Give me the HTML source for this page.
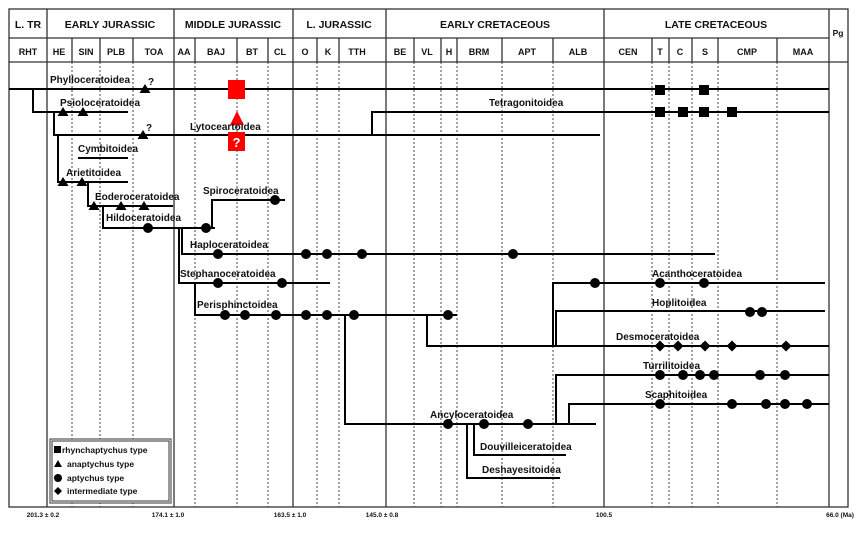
<!DOCTYPE html>
<html><head><meta charset="utf-8"><style>
html,body{margin:0;padding:0;background:#fff;}
svg{display:block;}
text{font-family:"Liberation Sans",Arial,sans-serif;font-weight:bold;fill:#111;}
</style></head><body>
<svg width="862" height="544" viewBox="0 0 862 544" xmlns="http://www.w3.org/2000/svg">
<defs>
<g id="c"><circle r="5" fill="#000"/></g>
<g id="t"><polygon points="0,-5 5.5,4 -5.5,4" fill="#000"/></g>
<g id="s"><rect x="-5" y="-5" width="10" height="10" fill="#000"/></g>
<g id="d"><polygon points="0,-5.5 5.5,0 0,5.5 -5.5,0" fill="#000"/></g>
</defs>
<!-- dotted stage lines -->
<g stroke="#444" stroke-width="1" stroke-dasharray="2,2">
<line x1="72" y1="62" x2="72" y2="507"/><line x1="100" y1="62" x2="100" y2="507"/><line x1="133" y1="62" x2="133" y2="507"/>
<line x1="195" y1="62" x2="195" y2="507"/><line x1="237" y1="62" x2="237" y2="507"/><line x1="268" y1="62" x2="268" y2="507"/>
<line x1="317" y1="62" x2="317" y2="507"/><line x1="339" y1="62" x2="339" y2="507"/>
<line x1="414" y1="62" x2="414" y2="507"/><line x1="441" y1="62" x2="441" y2="507"/><line x1="457" y1="62" x2="457" y2="507"/><line x1="502" y1="62" x2="502" y2="507"/><line x1="553" y1="62" x2="553" y2="507"/>
<line x1="652" y1="62" x2="652" y2="507"/><line x1="669" y1="62" x2="669" y2="507"/><line x1="692" y1="62" x2="692" y2="507"/><line x1="718" y1="62" x2="718" y2="507"/><line x1="777" y1="62" x2="777" y2="507"/>
</g>
<!-- frame -->
<g stroke="#333" stroke-width="1.3" fill="none">
<rect x="9" y="9" width="839" height="498"/>
<line x1="9" y1="38" x2="829" y2="38"/><line x1="9" y1="62" x2="848" y2="62"/>
<line x1="47" y1="9" x2="47" y2="507"/><line x1="174" y1="9" x2="174" y2="507"/><line x1="293" y1="9" x2="293" y2="507"/><line x1="386" y1="9" x2="386" y2="507"/><line x1="604" y1="9" x2="604" y2="507"/><line x1="829" y1="9" x2="829" y2="507"/>
<line x1="72" y1="38" x2="72" y2="62"/><line x1="100" y1="38" x2="100" y2="62"/><line x1="133" y1="38" x2="133" y2="62"/>
<line x1="195" y1="38" x2="195" y2="62"/><line x1="237" y1="38" x2="237" y2="62"/><line x1="268" y1="38" x2="268" y2="62"/>
<line x1="317" y1="38" x2="317" y2="62"/><line x1="339" y1="38" x2="339" y2="62"/>
<line x1="414" y1="38" x2="414" y2="62"/><line x1="441" y1="38" x2="441" y2="62"/><line x1="457" y1="38" x2="457" y2="62"/><line x1="502" y1="38" x2="502" y2="62"/><line x1="553" y1="38" x2="553" y2="62"/>
<line x1="652" y1="38" x2="652" y2="62"/><line x1="669" y1="38" x2="669" y2="62"/><line x1="692" y1="38" x2="692" y2="62"/><line x1="718" y1="38" x2="718" y2="62"/><line x1="777" y1="38" x2="777" y2="62"/>
</g>
<g font-size="10.5">
<text x="28" y="28" text-anchor="middle">L. TR</text>
<text x="110" y="28" text-anchor="middle">EARLY JURASSIC</text>
<text x="233" y="28" text-anchor="middle">MIDDLE JURASSIC</text>
<text x="339" y="28" text-anchor="middle">L. JURASSIC</text>
<text x="495" y="28" text-anchor="middle">EARLY CRETACEOUS</text>
<text x="716" y="28" text-anchor="middle">LATE CRETACEOUS</text>
</g>
<text x="838" y="36" text-anchor="middle" font-size="8.5">Pg</text>
<g font-size="9" text-anchor="middle">
<text x="28" y="55">RHT</text><text x="59" y="55">HE</text><text x="86" y="55">SIN</text><text x="116" y="55">PLB</text><text x="154" y="55">TOA</text>
<text x="184" y="55">AA</text><text x="216" y="55">BAJ</text><text x="252" y="55">BT</text><text x="280" y="55">CL</text>
<text x="305" y="55">O</text><text x="328" y="55">K</text><text x="357" y="55">TTH</text>
<text x="400" y="55">BE</text><text x="427" y="55">VL</text><text x="449" y="55">H</text><text x="479" y="55">BRM</text><text x="527" y="55">APT</text><text x="578" y="55">ALB</text>
<text x="628" y="55">CEN</text><text x="660" y="55">T</text><text x="680" y="55">C</text><text x="705" y="55">S</text><text x="747" y="55">CMP</text><text x="803" y="55">MAA</text>
</g>
<!-- tree lines -->
<g stroke="#000" stroke-width="2" fill="none">
<line x1="9" y1="89" x2="829" y2="89"/>
<polyline points="33,89 33,112 128,112"/>
<polyline points="372,135 372,112 829,112"/>
<polyline points="54,112 54,135 600,135"/>
<line x1="78" y1="158" x2="128" y2="158"/>
<polyline points="58,135 58,182 128,182"/>
<polyline points="88,182 88,206 173,206"/>
<polyline points="103,206 103,228 215,228"/>
<polyline points="212,228 212,200 285,200"/>
<polyline points="182,228 182,254 715,254"/>
<polyline points="179,228 179,283 330,283"/>
<polyline points="195,283 195,315 457,315"/>
<polyline points="345,315 345,424 596,424"/>
<polyline points="474,424 474,455 566,455"/>
<polyline points="467,424 467,478 560,478"/>
<polyline points="569,424 569,404 829,404"/>
<polyline points="556,424 556,375 829,375"/>
<polyline points="427,315 427,346 829,346"/>
<polyline points="556,346 556,311 825,311"/>
<polyline points="553,346 553,283 825,283"/>
</g>
<!-- markers -->
<use href="#t" x="145" y="89"/><use href="#s" x="660" y="90"/><use href="#s" x="704" y="90"/>
<use href="#t" x="63" y="112"/><use href="#t" x="83" y="112"/>
<use href="#s" x="660" y="112"/><use href="#s" x="683" y="112"/><use href="#s" x="704" y="112"/><use href="#s" x="732" y="112"/>
<use href="#t" x="143" y="135"/>
<use href="#t" x="63" y="182"/><use href="#t" x="82" y="182"/>
<use href="#t" x="94" y="206"/><use href="#t" x="121" y="206"/><use href="#t" x="144" y="206"/>
<use href="#c" x="148" y="228"/><use href="#c" x="206" y="228"/><use href="#c" x="275" y="200"/>
<use href="#c" x="218" y="254"/><use href="#c" x="306" y="254"/><use href="#c" x="327" y="254"/><use href="#c" x="362" y="254"/><use href="#c" x="513" y="254"/>
<use href="#c" x="218" y="283"/><use href="#c" x="282" y="283"/>
<use href="#c" x="225" y="315"/><use href="#c" x="245" y="315"/><use href="#c" x="276" y="315"/><use href="#c" x="306" y="315"/><use href="#c" x="327" y="315"/><use href="#c" x="354" y="315"/><use href="#c" x="448" y="315"/>
<use href="#c" x="448" y="424"/><use href="#c" x="484" y="424"/><use href="#c" x="528" y="424"/>
<use href="#c" x="595" y="283"/><use href="#c" x="660" y="283"/><use href="#c" x="704" y="283"/>
<use href="#c" x="750" y="312"/><use href="#c" x="762" y="312"/>
<use href="#d" x="660" y="346"/><use href="#d" x="678" y="346"/><use href="#d" x="705" y="346"/><use href="#d" x="732" y="346"/><use href="#d" x="786" y="346"/>
<use href="#c" x="660" y="375"/><use href="#c" x="683" y="375"/><use href="#c" x="700" y="375"/><use href="#c" x="714" y="375"/><use href="#c" x="760" y="375"/><use href="#c" x="785" y="375"/>
<use href="#c" x="660" y="404"/><use href="#c" x="732" y="404"/><use href="#c" x="766" y="404"/><use href="#c" x="785" y="404"/><use href="#c" x="807" y="404"/>
<!-- red -->
<rect x="228" y="80" width="17" height="19" fill="#f00"/>
<polygon points="237,111 244,125 230,125" fill="#f00"/>
<rect x="228" y="132" width="17" height="19" fill="#f00"/>
<text x="236.5" y="147" text-anchor="middle" font-size="13" style="fill:#fff">?</text>
<!-- labels -->
<g font-size="10">
<text x="50" y="83">Phylloceratoidea</text><text x="148" y="85">?</text>
<text x="60" y="106">Psioloceratoidea</text>
<text x="489" y="106">Tetragonitoidea</text>
<text x="190" y="130">Lytoceartoidea</text><text x="146" y="131">?</text>
<text x="78" y="152">Cymbitoidea</text>
<text x="66" y="176">Arietitoidea</text>
<text x="95" y="200">Eoderoceratoidea</text>
<text x="106" y="221">Hildoceratoidea</text>
<text x="203" y="194">Spiroceratoidea</text>
<text x="190" y="248">Haploceratoidea</text>
<text x="180" y="277">Stephanoceratoidea</text>
<text x="197" y="308">Perisphinctoidea</text>
<text x="430" y="418">Ancyloceratoidea</text>
<text x="480" y="450">Douvilleiceratoidea</text>
<text x="482" y="473">Deshayesitoidea</text>
<text x="652" y="277">Acanthoceratoidea</text>
<text x="652" y="306">Hoplitoidea</text>
<text x="616" y="340">Desmoceratoidea</text>
<text x="643" y="369">Turrilitoidea</text>
<text x="645" y="398">Scaphitoidea</text>
</g>
<!-- legend -->
<rect x="50" y="439" width="121" height="64" fill="#fff" stroke="#333" stroke-width="1"/>
<rect x="52" y="441" width="117" height="60" fill="none" stroke="#333" stroke-width="1"/>
<rect x="54" y="446" width="7" height="7" fill="#000"/>
<polygon points="58,460 62,467 54,467" fill="#000"/>
<circle cx="58" cy="478" r="4" fill="#000"/>
<polygon points="58,487 62,491 58,495 54,491" fill="#000"/>
<g font-size="8.5">
<text x="62" y="453">rhynchaptychus type</text>
<text x="67" y="467">anaptychus type</text>
<text x="67" y="481">aptychus type</text>
<text x="67" y="494">intermediate type</text>
</g>
<g font-size="6.5" text-anchor="middle">
<text x="43" y="517">201.3 ± 0.2</text><text x="168" y="517">174.1 ± 1.0</text><text x="290" y="517">163.5 ± 1.0</text><text x="382" y="517">145.0 ± 0.8</text><text x="604" y="517">100.5</text><text x="840" y="517">66.0 (Ma)</text>
</g>
</svg>
</body></html>
